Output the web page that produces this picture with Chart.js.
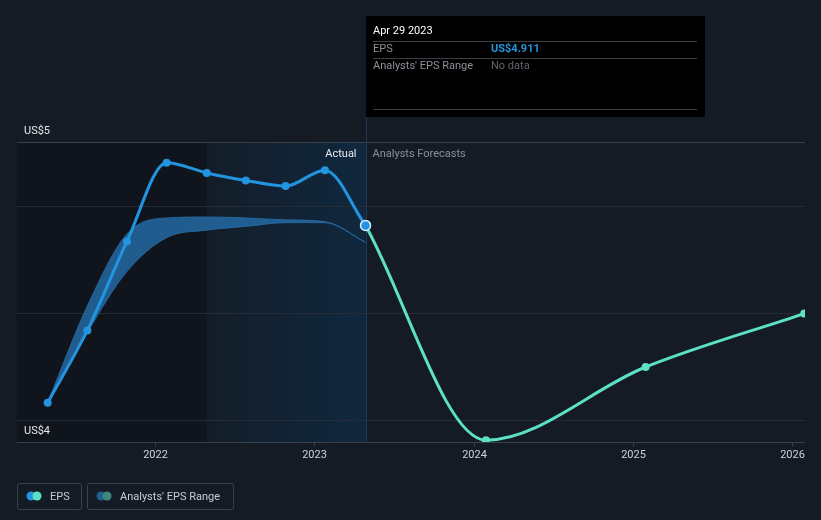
<!DOCTYPE html>
<html>
<head>
<meta charset="utf-8">
<script src="https://cdn.jsdelivr.net/npm/chart.js@4/dist/chart.umd.min.js"></script>
<style>
  html, body { margin: 0; padding: 0; background: #151b24; }
  canvas { display: block; }
</style>
</head>
<body>
<canvas id="grafico" width="821" height="520"></canvas>
<script>
// datos: fechas en años decimales
const fechasReal = [2021.326, 2021.575, 2021.824, 2022.073, 2022.325, 2022.57, 2022.82, 2023.067, 2023.322];
const epsReal = [4.722, 4.799, 4.894, 4.978, 4.967, 4.959, 4.953, 4.970, 4.911];

const fechasPrev = [2023.322, 2024.078, 2025.081, 2026.077];
const epsPrev = [4.911, 4.682, 4.760, 4.817];

// rango de analistas (pasado)
const rangoAlto = [4.722, 4.825, 4.902, 4.919, 4.920, 4.919, 4.917, 4.915, 4.893];
const rangoBajo = [4.722, 4.797, 4.862, 4.898, 4.906, 4.910, 4.914, 4.914, 4.893];

const anios = [2022, 2023, 2024, 2025, 2026];
const lineasY = [4.7035, 4.8176, 4.9317];
const etiquetasY = ["US$5", "US$4"];

const xMin = 2021.1334, xMax = 2026.0816;
const yMin = 4.68, yMax = 5.0;
const inicioResaltado = 2022.325;
const fechaHover = 2023.322;

const FUENTE = "Roboto, 'Open Sans', sans-serif";

const pts = (xs, ys) => xs.map((x, i) => ({ x: x, y: ys[i] }));

const fondo = {
  id: "fondo",
  beforeDraw(chart) {
    const ctx = chart.ctx;
    const a = chart.chartArea;
    const sx = chart.scales.x, sy = chart.scales.y;
    ctx.save();
    ctx.fillStyle = "#151b24";
    ctx.fillRect(0, 0, chart.width, chart.height);

    const xr = sx.getPixelForValue(inicioResaltado);
    const xh = sx.getPixelForValue(fechaHover);
    // zona pasada oscura
    ctx.fillStyle = "#10151d";
    ctx.fillRect(a.left, a.top, xr - a.left, a.bottom - a.top);
    // zona resaltada
    const g = ctx.createLinearGradient(xr, 0, xh, 0);
    g.addColorStop(0, "#131d29");
    g.addColorStop(1, "#10283e");
    ctx.fillStyle = g;
    ctx.fillRect(xr, a.top, xh - xr, a.bottom - a.top);

    // lineas de grilla
    ctx.strokeStyle = "#262c35";
    ctx.lineWidth = 1;
    lineasY.concat([yMax]).forEach(v => {
      const y = Math.round(sy.getPixelForValue(v)) + 0.5;
      ctx.beginPath();
      ctx.moveTo(a.left, y);
      ctx.lineTo(a.right, y);
      ctx.stroke();
    });
    ctx.strokeStyle = "#3a404a";
    ctx.beginPath();
    ctx.moveTo(a.left, Math.round(sy.getPixelForValue(yMax)) + 0.5);
    ctx.lineTo(a.right, Math.round(sy.getPixelForValue(yMax)) + 0.5);
    ctx.stroke();

    // eje x
    const yb = Math.round(a.bottom) + 0.5;
    ctx.strokeStyle = "#3a404a";
    ctx.beginPath();
    ctx.moveTo(a.left, yb);
    ctx.lineTo(a.right, yb);
    ctx.stroke();
    ctx.fillStyle = "#d0d4da";
    ctx.font = "11px " + FUENTE;
    ctx.textAlign = "center";
    ctx.textBaseline = "middle";
    anios.forEach(an => {
      const x = Math.round(sx.getPixelForValue(an)) + 0.5;
      ctx.beginPath();
      ctx.moveTo(x, yb);
      ctx.lineTo(x, yb + 4);
      ctx.stroke();
      ctx.fillText(String(an), x, a.bottom + 13);
    });

    // linea vertical del hover
    ctx.strokeStyle = "#1e3a56";
    ctx.beginPath();
    ctx.moveTo(Math.round(xh) + 0.5, 16);
    ctx.lineTo(Math.round(xh) + 0.5, a.bottom);
    ctx.stroke();

    // etiquetas eje y
    ctx.textAlign = "left";
    ctx.textBaseline = "alphabetic";
    ctx.fillStyle = "#e4e6ea";
    ctx.fillText(etiquetasY[0], a.left + 7, sy.getPixelForValue(yMax) - 8);
    ctx.fillText(etiquetasY[1], a.left + 7, sy.getPixelForValue(yMin) - 8);

    // textos Actual / Forecasts
    ctx.textBaseline = "middle";
    ctx.textAlign = "right";
    ctx.fillStyle = "#e8eaed";
    ctx.fillText("Actual", xh - 9, a.top + 12);
    ctx.textAlign = "left";
    ctx.fillStyle = "#8a8f98";
    ctx.fillText("Analysts Forecasts", xh + 7, a.top + 12);
    ctx.restore();
  },
  afterDraw(chart) {
    const ctx = chart.ctx;
    const xh = Math.round(chart.scales.x.getPixelForValue(fechaHover));
    ctx.save();
    // caja del tooltip
    ctx.fillStyle = "#000000";
    ctx.fillRect(xh, 16, 339, 101);
    ctx.strokeStyle = "#3a3f46";
    ctx.lineWidth = 1;
    [41, 58, 109].forEach(y => {
      ctx.beginPath();
      ctx.moveTo(xh + 7, y + 0.5);
      ctx.lineTo(xh + 331, y + 0.5);
      ctx.stroke();
    });
    ctx.textBaseline = "middle";
    ctx.textAlign = "left";
    ctx.font = "11px " + FUENTE;
    ctx.fillStyle = "#ffffff";
    ctx.fillText("Apr 29 2023", xh + 7, 31);
    ctx.fillStyle = "#8c9199";
    ctx.fillText("EPS", xh + 7, 49);
    ctx.fillText("Analysts' EPS Range", xh + 7, 66);
    ctx.font = "bold 11px " + FUENTE;
    ctx.fillStyle = "#2394df";
    ctx.fillText("US$4.911", xh + 125, 49);
    ctx.font = "11px " + FUENTE;
    ctx.fillStyle = "#60656d";
    ctx.fillText("No data", xh + 125, 66);

    // leyenda
    const caja = (x, w) => {
      ctx.strokeStyle = "#3a404b";
      ctx.beginPath();
      ctx.roundRect(x + 0.5, 483.5, w, 26, 2);
      ctx.stroke();
    };
    const punto = (x, c) => {
      ctx.fillStyle = c;
      ctx.beginPath();
      ctx.arc(x, 496, 4.5, 0, Math.PI * 2);
      ctx.fill();
    };
    caja(17, 64);
    punto(31, "#2394df");
    punto(37, "#5ce0c6");
    ctx.fillStyle = "#c8ccd2";
    ctx.font = "11px " + FUENTE;
    ctx.fillText("EPS", 50, 497);
    caja(87, 146);
    punto(101, "#245e8c");
    punto(107, "#3b8a82");
    ctx.fillStyle = "#c8ccd2";
    ctx.fillText("Analysts' EPS Range", 120, 497);
    ctx.restore();
  }
};

const radiosReal = epsReal.map((v, i) => (i === epsReal.length - 1 ? 5 : 4));
const bordesReal = epsReal.map((v, i) => (i === epsReal.length - 1 ? 1.5 : 0));

new Chart(document.getElementById("grafico"), {
  type: "line",
  data: {
    datasets: [
      {
        label: "Rango alto",
        data: pts(fechasReal, rangoAlto),
        borderColor: "rgba(37,105,160,0.9)",
        borderWidth: 1,
        backgroundColor: "rgba(37,105,163,0.85)",
        fill: "+1",
        pointRadius: 0,
        cubicInterpolationMode: "monotone",
        order: 3,
      },
      {
        label: "Rango bajo",
        data: pts(fechasReal, rangoBajo),
        borderColor: "rgba(37,105,160,0.9)",
        borderWidth: 1,
        fill: false,
        pointRadius: 0,
        cubicInterpolationMode: "monotone",
        order: 3,
      },
      {
        label: "EPS previsto",
        data: pts(fechasPrev, epsPrev),
        borderColor: "#5ce0c6",
        backgroundColor: "#5ce0c6",
        borderWidth: 3,
        fill: false,
        pointRadius: [0, 4, 4, 4],
        pointBorderWidth: 0,
        cubicInterpolationMode: "monotone",
        order: 2,
      },
      {
        label: "EPS",
        data: pts(fechasReal, epsReal),
        borderColor: "#2394df",
        backgroundColor: "#2394df",
        borderWidth: 3,
        fill: false,
        pointRadius: radiosReal,
        pointBorderWidth: bordesReal,
        pointBorderColor: "#d8ecfa",
        cubicInterpolationMode: "monotone",
        order: 1,
      },
    ],
  },
  options: {
    responsive: false,
    animation: false,
    devicePixelRatio: 1,
    layout: { padding: { left: 17, right: 16, top: 142, bottom: 78 } },
    scales: {
      x: { type: "linear", min: xMin, max: xMax, display: false },
      y: { type: "linear", min: yMin, max: yMax, display: false },
    },
    plugins: {
      legend: { display: false },
      tooltip: { enabled: false },
    },
  },
  plugins: [fondo],
});
</script>
</body>
</html>
